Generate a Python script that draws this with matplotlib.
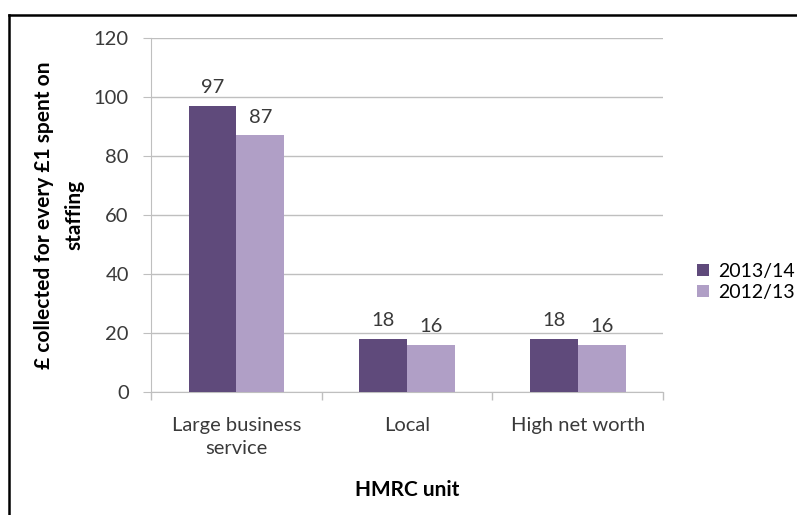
import numpy as np
import matplotlib.pyplot as plt
from matplotlib.lines import Line2D

plt.rcParams['font.family'] = ['Lato', 'DejaVu Sans']

# Datos
unidades = ["Large business\nservice", "Local", "High net worth"]
serie_2013 = [97, 18, 18]
serie_2012 = [87, 16, 16]
etiquetas_series = ["2013/14", "2012/13"]

color_oscuro = "#5f4a7b"
color_claro = "#b09fc6"
gris = "#bfbfbf"
texto = "#3a3a3a"

fig = plt.figure(figsize=(7.97, 5.15), dpi=100)
ax = fig.add_axes([0.1895, 0.2388, 0.6425, 0.6872])

x = np.arange(len(unidades))
ancho = 0.28
b1 = ax.bar(x - ancho / 2, serie_2013, ancho, color=color_oscuro, label=etiquetas_series[0], zorder=3)
b2 = ax.bar(x + ancho / 2, serie_2012, ancho, color=color_claro, label=etiquetas_series[1], zorder=3)

for barras in (b1, b2):
    for b in barras:
        ax.annotate(f"{b.get_height():.0f}", (b.get_x() + b.get_width() / 2, b.get_height()),
                    xytext=(0, 7), textcoords="offset points", ha="center", va="bottom",
                    fontsize=14.5, color=texto)

ax.set_xlim(-0.5, 2.5)
ax.set_ylim(0, 120)
ax.set_yticks(range(0, 121, 20))
ax.set_xticks(x)
ax.set_xticklabels(unidades, fontsize=14.5, color=texto, linespacing=1.45)
ax.set_xticks([-0.5, 0.5, 1.5, 2.5], minor=True)
ax.tick_params(axis="x", which="major", length=0, pad=18)
ax.tick_params(axis="x", which="minor", length=6, color=gris, width=1)
ax.tick_params(axis="y", length=6, color=gris, labelsize=14.5, labelcolor=texto, pad=10)

ax.yaxis.grid(True, color=gris, linewidth=1, zorder=0)
for lado in ["top", "right"]:
    ax.spines[lado].set_visible(False)
ax.spines["left"].set_color(gris)
ax.spines["bottom"].set_color(gris)

ax.set_ylabel("£ collected for every £1 spent on\nstaffing", fontsize=15, fontweight="bold",
              labelpad=7, linespacing=1.6)
ax.set_xlabel("HMRC unit", fontsize=15, fontweight="bold", labelpad=16)

ax.legend(loc="center left", bbox_to_anchor=(697 / 797, 1 - 282 / 515), bbox_transform=fig.transFigure,
          frameon=False, fontsize=14, borderpad=0, borderaxespad=0,
          handlelength=0.6, handleheight=0.6, handletextpad=0.5, labelspacing=0.2)

# Marco superior e izquierdo
fig.add_artist(Line2D([0.0113, 1.0], [0.971, 0.971], color="black", linewidth=1.8))
fig.add_artist(Line2D([0.0113, 0.0113], [0.0, 0.971], color="black", linewidth=1.8))

fig.savefig("out.png", dpi=100)
